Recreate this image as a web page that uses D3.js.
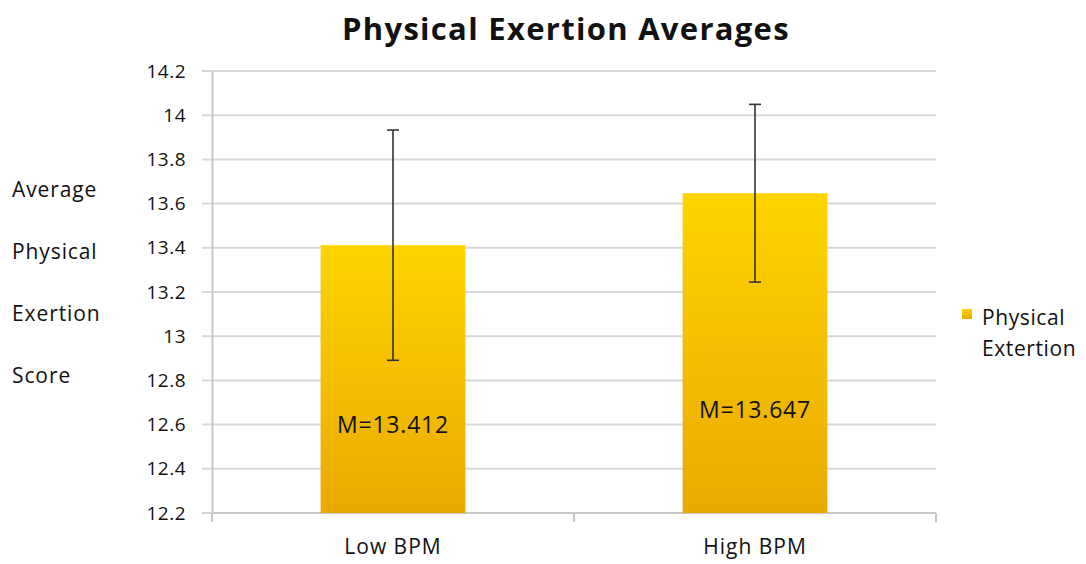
<!DOCTYPE html>
<html><head><meta charset="utf-8">
<script src="https://cdn.jsdelivr.net/npm/d3@7"></script>
<style>body{margin:0;background:#fff}svg{display:block}text{font-family:"Open Sans","Noto Sans",sans-serif;fill:#111}</style>
</head><body><svg id="c" width="1086" height="564"></svg>
<script>
const categories = ["Low BPM", "High BPM"];
const means = [13.412, 13.647];
const errors = [0.521, 0.402];
const meanLabels = ["M=13.412", "M=13.647"];
const labelAt = [12.6, 12.665];
const yTicks = [12.2, 12.4, 12.6, 12.8, 13, 13.2, 13.4, 13.6, 13.8, 14, 14.2];
const yTitle = ["Average", "Physical", "Exertion", "Score"];
const seriesName = ["Physical", "Extertion"];
const title = "Physical Exertion Averages";

const svg = d3.select("#c");
const L = 212, R = 936, T = 71, B = 513;
const x = d3.scaleBand().domain(categories).range([L, R]).padding(0);
const y = d3.scaleLinear().domain([12.2, 14.2]).range([B, T]);

const defs = svg.append("defs");
const g = defs.append("linearGradient").attr("id", "gold").attr("x1", 0).attr("y1", 0).attr("x2", 0).attr("y2", 1);
g.append("stop").attr("offset", "0%").attr("stop-color", "#FFD400");
g.append("stop").attr("offset", "100%").attr("stop-color", "#E9A900");

// title
svg.append("text").attr("x", 566).attr("y", 40).attr("text-anchor", "middle")
  .style("font-size", "31px").style("font-weight", "bold").style("letter-spacing", "1.3px").text(title);

// gridlines
svg.append("g").selectAll("line").data(yTicks).join("line")
  .attr("x1", L - 10).attr("x2", R).attr("y1", d => y(d)).attr("y2", d => y(d))
  .attr("stroke", "#d9d9d9").attr("stroke-width", 2);

// y axis
const ya = svg.append("g").attr("transform", `translate(${L},0)`)
  .call(d3.axisLeft(y).tickValues(yTicks).tickSize(0).tickPadding(26).tickFormat(d3.format("~g")));
ya.select(".domain").attr("stroke", "#c8c8c8").attr("stroke-width", 2);
ya.selectAll("text").style("font-size", "19px").style("letter-spacing", "0.5px").style("font-family", "'Open Sans',sans-serif").attr("fill", "#111");

// x axis
const xa = svg.append("g").attr("transform", `translate(0,${B})`)
  .call(d3.axisBottom(x).tickSize(0).tickPadding(26));
xa.select(".domain").remove();
xa.selectAll("text").style("font-size", "21px").style("letter-spacing", "1px").style("font-family", "'Open Sans',sans-serif").attr("fill", "#111");
svg.append("line").attr("x1", L).attr("x2", R).attr("y1", B).attr("y2", B).attr("stroke", "#c8c8c8").attr("stroke-width", 2);
const bounds = [L, L + x.step(), R];
svg.append("g").selectAll("line").data(bounds).join("line")
  .attr("x1", d => d).attr("x2", d => d).attr("y1", B).attr("y2", B + 9)
  .attr("stroke", "#c8c8c8").attr("stroke-width", 2);

// bars
const bw = x.bandwidth() * 0.4;
const bars = categories.map((c, i) => ({c, m: means[i], e: errors[i], lab: meanLabels[i], la: labelAt[i]}));
svg.append("g").selectAll("rect").data(bars).join("rect")
  .attr("x", d => x(d.c) + (x.bandwidth() - bw) / 2).attr("width", bw)
  .attr("y", d => y(d.m)).attr("height", d => B - y(d.m)).attr("fill", "url(#gold)");

// error bars
const eg = svg.append("g").attr("stroke", "#333").attr("stroke-width", 1.6);
bars.forEach(d => {
  const cx = x(d.c) + x.bandwidth() / 2;
  eg.append("line").attr("x1", cx).attr("x2", cx).attr("y1", y(d.m + d.e)).attr("y2", y(d.m - d.e));
  eg.append("line").attr("x1", cx - 6).attr("x2", cx + 6).attr("y1", y(d.m + d.e)).attr("y2", y(d.m + d.e));
  eg.append("line").attr("x1", cx - 6).attr("x2", cx + 6).attr("y1", y(d.m - d.e)).attr("y2", y(d.m - d.e));
});

// labels
svg.append("g").selectAll("text").data(bars).join("text")
  .attr("x", d => x(d.c) + x.bandwidth() / 2).attr("y", d => y(d.la)).attr("dy", "0.35em")
  .attr("text-anchor", "middle").style("font-size", "23px").style("letter-spacing", "0.8px").text(d => d.lab);

// y title
svg.append("g").selectAll("text").data(yTitle).join("text")
  .attr("x", 12).attr("y", (d, i) => 197 + i * 62).style("font-size", "21px").style("letter-spacing", "0.9px").text(d => d);

// legend
svg.append("rect").attr("x", 962).attr("y", 309).attr("width", 10).attr("height", 10).attr("fill", "url(#gold)");
svg.append("g").selectAll("text").data(seriesName).join("text")
  .attr("x", 982).attr("y", (d, i) => 325 + i * 31).style("font-size", "21px").style("letter-spacing", "0.6px").text(d => d);
</script></body></html>
